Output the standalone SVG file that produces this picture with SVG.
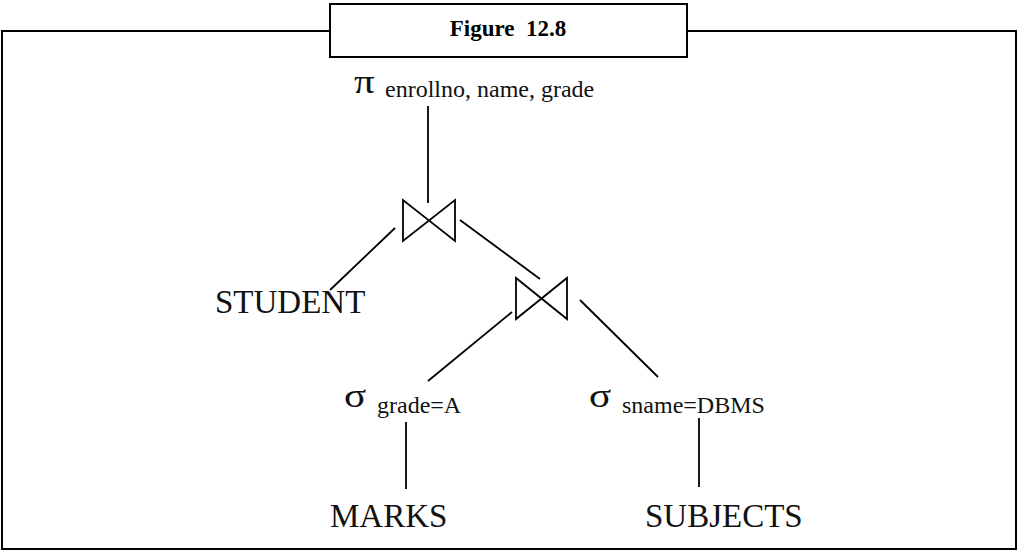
<svg xmlns="http://www.w3.org/2000/svg" width="1017" height="550" viewBox="0 0 1017 550">
<style>
.frame{fill:none;stroke:#000;stroke-width:2}
.tbox{fill:#fff;stroke:#000;stroke-width:2}
.edge{fill:none;stroke:#000;stroke-width:1.8;stroke-linecap:butt}
.join{fill:none;stroke:#000;stroke-width:1.8;stroke-linejoin:miter}
.title{font-family:"Liberation Serif","DejaVu Serif",serif;font-weight:bold;font-size:23px;fill:#000;white-space:pre}
.rel{font-family:"Liberation Serif",serif;font-size:33px;fill:#111}
.sub{font-family:"Liberation Serif",serif;font-size:24px;fill:#111}
.greek{font-family:"Liberation Serif",serif;fill:#111}
</style>
<rect width="1017" height="550" fill="#fff"/>
<rect class="frame" x="2" y="31" width="1014" height="518"/>
<g id="title">
<rect class="tbox" x="330" y="4" width="357" height="53"/>
<text class="title" x="508" y="36" text-anchor="middle" xml:space="preserve">Figure  12.8</text>
</g>
<g id="connectors">
<line class="edge" x1="428" y1="106" x2="428" y2="203"/>
<line class="edge" x1="395" y1="228" x2="330" y2="290"/>
<line class="edge" x1="460" y1="220" x2="540" y2="279"/>
<line class="edge" x1="512" y1="312" x2="428" y2="381"/>
<line class="edge" x1="580" y1="300" x2="658" y2="377"/>
<line class="edge" x1="406" y1="422" x2="406" y2="489"/>
<line class="edge" x1="699" y1="418" x2="699" y2="487"/>
</g>
<g id="project">
<text class="greek" transform="translate(354,93) scale(1.2,1)" font-size="34">π</text>
<text class="sub" x="385" y="97">enrollno, name, grade</text>
</g>
<g id="join1">
<path class="join" d="M403,200 L403,241 L455,200 L455,241 Z"/>
</g>
<g id="join2">
<path class="join" d="M516,278 L516,319 L567,278 L567,319 Z"/>
</g>
<g id="student">
<text class="rel" x="215" y="313">STUDENT</text>
</g>
<g id="select-grade">
<text class="greek" transform="translate(344,407) scale(1.25,1)" font-size="33">σ</text>
<text class="sub" x="377" y="413">grade=A</text>
</g>
<g id="select-sname">
<text class="greek" transform="translate(589,407) scale(1.25,1)" font-size="33">σ</text>
<text class="sub" x="622" y="413">sname=DBMS</text>
</g>
<g id="marks">
<text class="rel" x="330" y="527">MARKS</text>
</g>
<g id="subjects">
<text class="rel" x="645" y="527">SUBJECTS</text>
</g>
</svg>
